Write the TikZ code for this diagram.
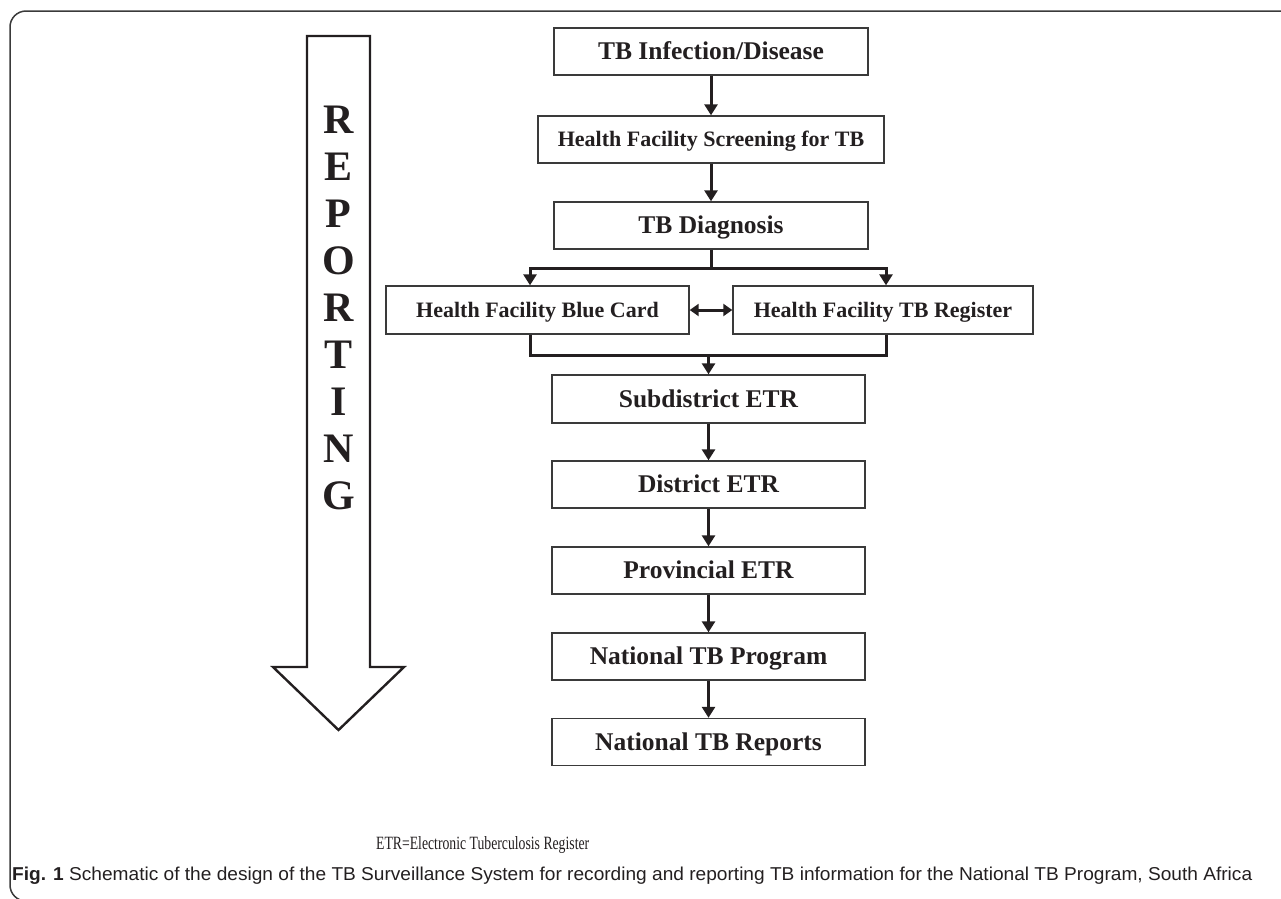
\documentclass[tikz,border=0pt]{standalone}
\usepackage{fontspec}
\setmainfont{Liberation Serif}
\setsansfont{Liberation Sans}
\usetikzlibrary{arrows.meta}
\definecolor{ink}{HTML}{231F20}
\definecolor{edge}{HTML}{3A3A3A}
\begin{document}
\begin{tikzpicture}[x=1pt,y=-1pt,
  box/.style={draw=edge, line width=1.4pt, rectangle, inner sep=0pt, text=ink,
    font=\bfseries\fontsize{25.5}{28}\selectfont, text height=16.8pt, text depth=0pt,
    minimum height=47pt},
  smallbox/.style={box, font=\bfseries\fontsize{22}{26}\selectfont, text height=14.6pt},
  conn/.style={draw=ink, line width=3pt, -{Triangle[width=13pt,length=11pt]}},
  link/.style={draw=ink, line width=3pt},
  both/.style={draw=ink, line width=3pt, {Triangle[width=12pt,length=9pt]}-{Triangle[width=12pt,length=9pt]}},
  letter/.style={text=ink, font=\bfseries\fontsize{42}{44}\selectfont, inner sep=0pt,
    text height=27.6pt, text depth=0pt},
  plain/.style={inner sep=0pt, text=ink}
]
\useasboundingbox (0,0) rectangle (1281,898);
\begin{scope}
  \clip (0,0) rectangle (1281,898);
  \draw[edge, line width=1.5pt, rounded corners=16pt] (10,11) rectangle (1320,901);
\end{scope}

% big REPORTING arrow
\draw[ink, line width=2.4pt, line join=miter]
  (307,36) -- (370,36) -- (370,667) -- (404,667) -- (338.5,730) -- (273,667) -- (307,667) -- cycle;
\foreach \l [count=\i] in {R,E,P,O,R,T,I,N,G}
  \node[letter] (L\i) at (338.5,{120+47*(\i-1)}) {\l};

% boxes
\node[box, minimum width=314pt] (inf) at (711,51.5) {TB Infection/Disease};
\node[smallbox, minimum width=346pt] (scr) at (711,139.5) {Health Facility Screening for TB};
\node[box, minimum width=314pt] (dia) at (711,225.5) {TB Diagnosis};
\node[smallbox, minimum width=303pt, minimum height=48pt] (blue) at (537.5,310) {Health Facility Blue Card};
\node[smallbox, minimum width=300pt, minimum height=48pt] (reg) at (883,310) {Health Facility TB Register};
\node[box, minimum width=313pt, minimum height=48pt] (sub) at (708.5,399) {Subdistrict ETR};
\node[box, minimum width=313pt] (dis) at (708.5,484.5) {District ETR};
\node[box, minimum width=313pt] (pro) at (708.5,570.5) {Provincial ETR};
\node[box, minimum width=313pt] (nat) at (708.5,656.5) {National TB Program};
\node[box, minimum width=313pt] (rep) at (708.5,742) {National TB Reports};

% connectors
\draw[conn] (inf.south) -- (scr.north);
\draw[conn] (scr.south) -- (dia.north);
\coordinate (split) at (711,268);
\draw[link] (dia.south) -- (split);
\draw[conn] (split) -| ([xshift=-7.5pt]blue.north);
\draw[conn] (split) -| ([xshift=3pt]reg.north);
\draw[both] (blue.east) -- (reg.west);
\coordinate (merge) at (708.5,355);
\draw[link] ([xshift=-7.5pt]blue.south) |- (merge);
\draw[link] ([xshift=3pt]reg.south) |- (merge);
\draw[conn] (merge) -- (sub.north);
\draw[conn] (sub.south) -- (dis.north);
\draw[conn] (dis.south) -- (pro.north);
\draw[conn] (pro.south) -- (nat.north);
\draw[conn] (nat.south) -- (rep.north);

% notes
\node[plain, anchor=base west] (etr) at (376,849)
  {\resizebox{213pt}{13pt}{\fontsize{15}{17}\selectfont ETR=Electronic Tuberculosis Register}};
\node[plain, anchor=base west] (cap) at (12,880)
  {\resizebox{1240pt}{13.5pt}{\sffamily\fontsize{18}{20}\selectfont\textbf{Fig. 1} Schematic of the design of the TB Surveillance System for recording and reporting TB information for the National TB Program, South Africa}};
\end{tikzpicture}
\end{document}
